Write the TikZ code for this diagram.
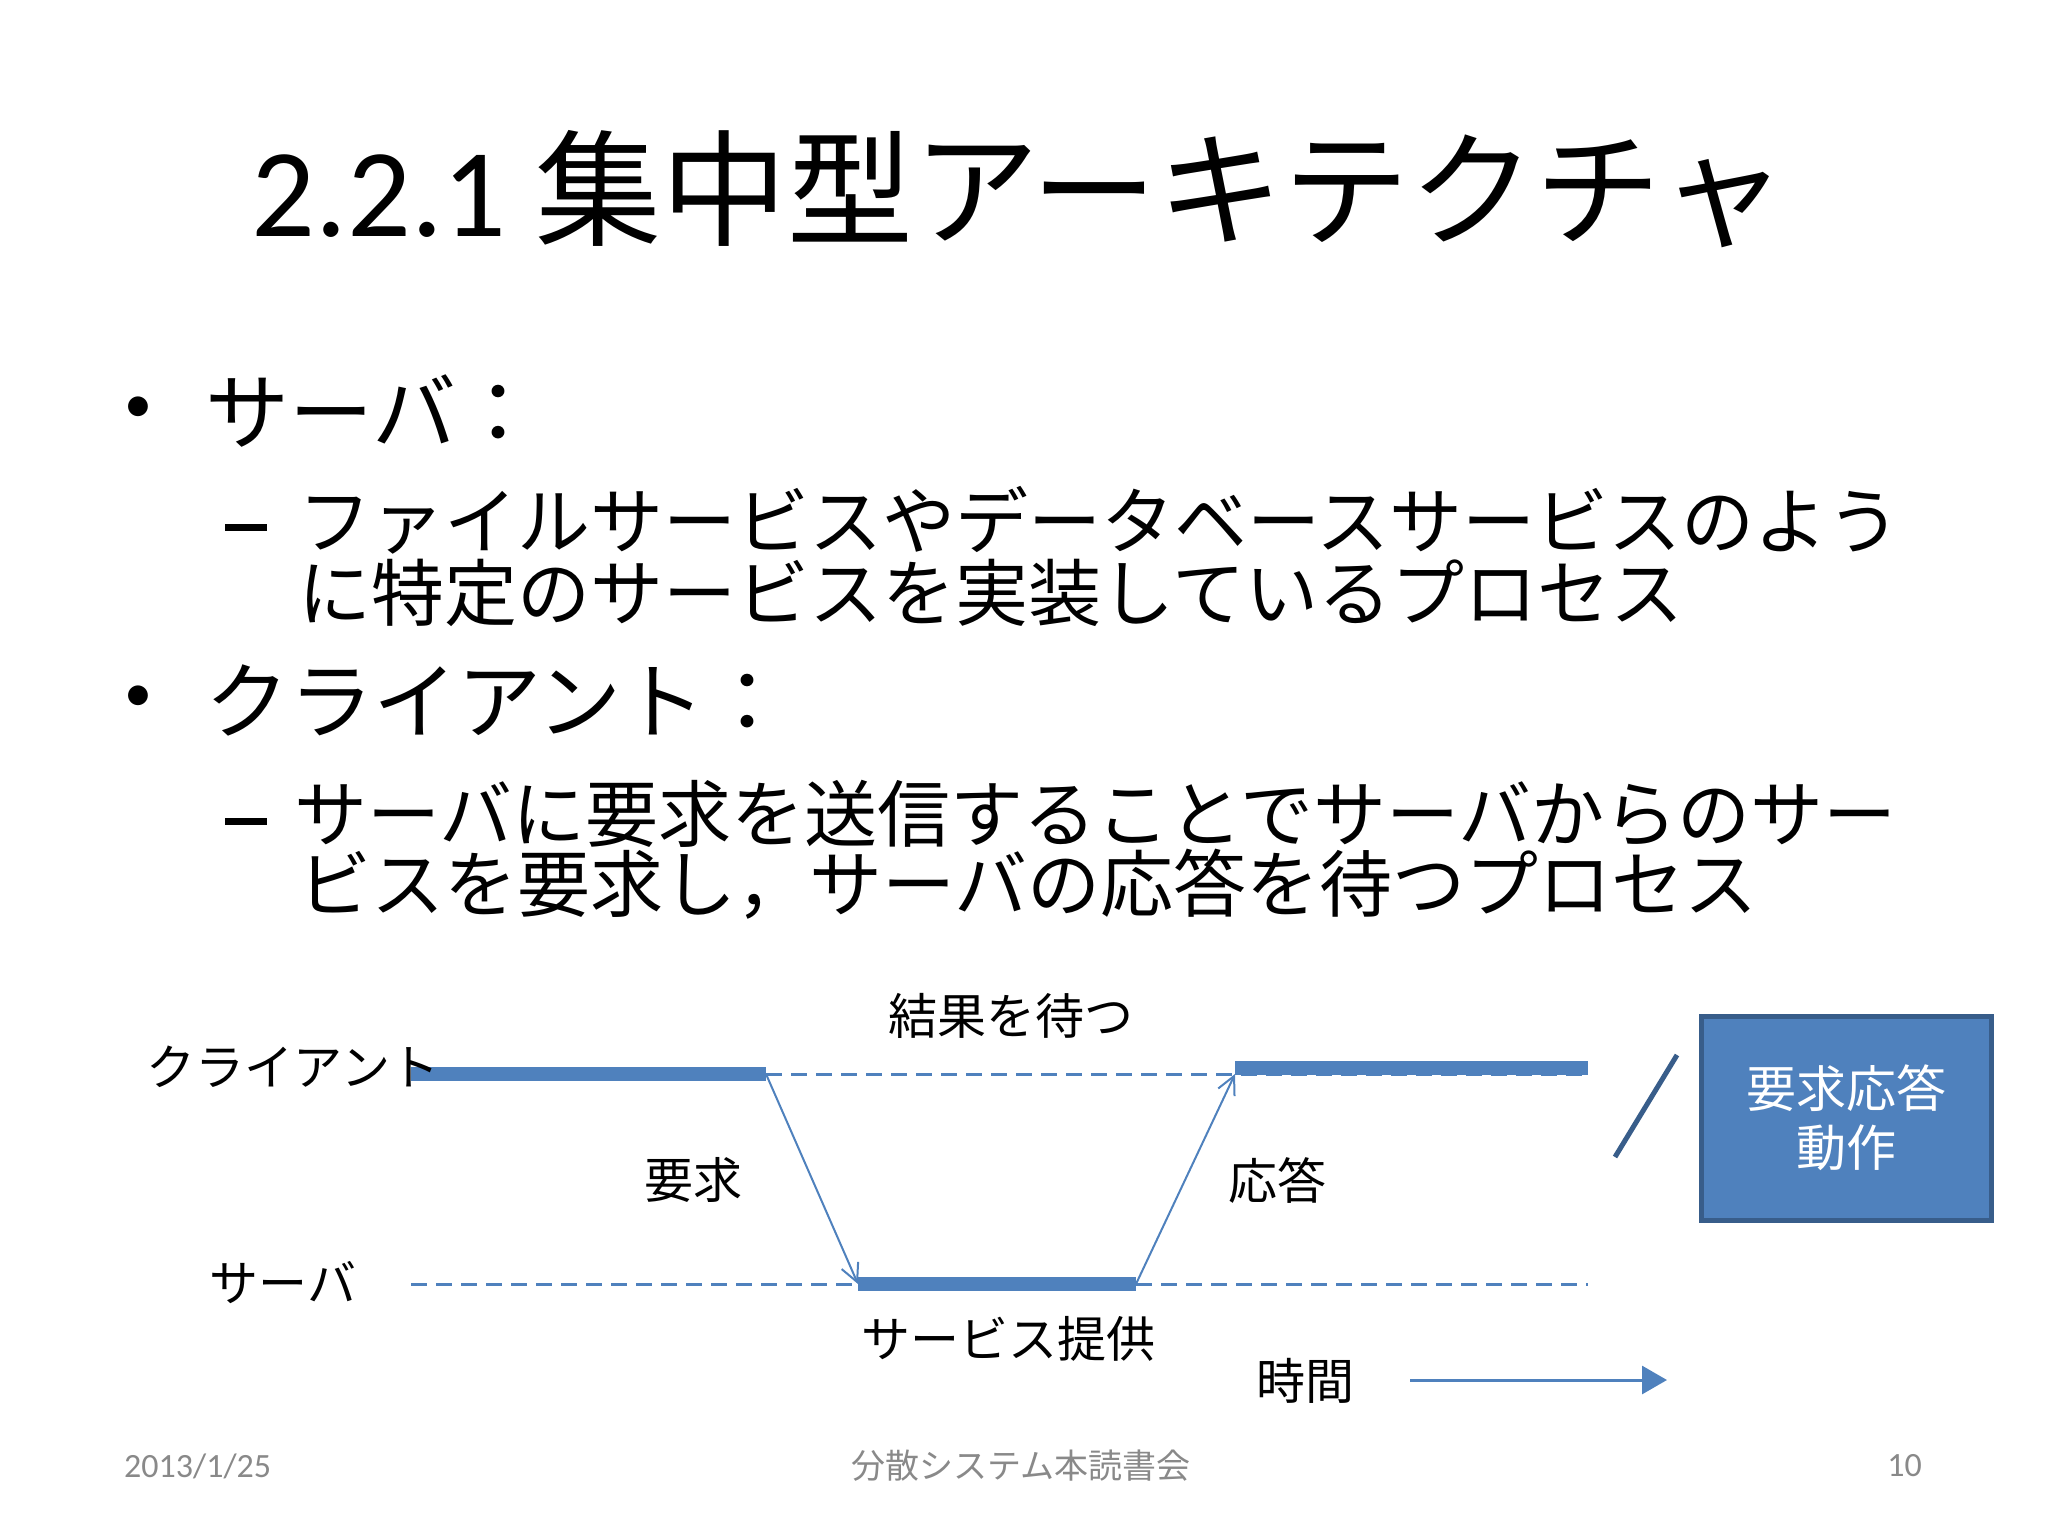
\documentclass[tikz,border=0pt]{standalone}
\usepackage{fontspec}
\setmainfont{Carlito}
\newfontfamily\jp{Noto Sans CJK JP}
\usetikzlibrary{arrows.meta}
\definecolor{office}{HTML}{4F81BD}
\definecolor{officedark}{HTML}{385D8A}
\definecolor{footgray}{HTML}{898989}

\begin{document}
\begin{tikzpicture}[x=1pt,y=-1pt,
  lvlone/.style={inner sep=0pt,anchor=west,font=\jp\fontsize{84}{90}\selectfont},
  lvltwo/.style={inner sep=0pt,anchor=west,font=\jp\fontsize{73}{80}\selectfont},
  puce/.style={inner sep=0pt,font=\fontsize{56}{60}\selectfont},
  tiret/.style={inner sep=0pt},
  lbl/.style={inner sep=0pt,font=\jp\fontsize{49}{55}\selectfont},
  foot/.style={inner sep=0pt,text=footgray,font=\fontsize{34}{40}\selectfont},
  activ/.style={office,line width=14pt},
  idle/.style={office,line width=3pt,dash pattern=on 16pt off 9pt},
  msg/.style={office,line width=2pt,-{Straight Barb[length=18pt,width=18pt]}}]
\useasboundingbox (0,0) rectangle (2048,1536);

% Titre
\node[inner sep=0pt] (titre) at (1019,189)
  {\fontsize{126}{130}\selectfont 2.2.1 {\jp 集中型アーキテクチャ}};

% Puces
\node[puce] (puceA) at (138,410) {•};
\node[lvlone] (serveur) at (205,411) {サーバ：};
\node[tiret] (tiretA) at (246,527) {\rule{42pt}{7pt}};
\node[lvltwo] (ligneA) at (298,520) {ファイルサービスやデータベースサービスのよう};
\node[lvltwo] (ligneB) at (298,593) {に特定のサービスを実装しているプロセス};
\node[puce] (puceB) at (138,699) {•};
\node[lvlone] (client) at (205,700) {クライアント：};
\node[tiret] (tiretB) at (246,821) {\rule{42pt}{7pt}};
\node[lvltwo] (ligneC) at (294,814) {サーバに要求を送信することでサーバからのサー};
\node[lvltwo] (ligneD) at (298,884) {ビスを要求し，サーバの応答を待つプロセス};

% Les lignes de temps
\coordinate (cA) at (411,1074);
\coordinate (cB) at (766,1074);
\coordinate (cC) at (1235,1074);
\coordinate (cD) at (1235,1068);
\coordinate (cE) at (1588,1068);
\coordinate (sA) at (411,1284);
\coordinate (sB) at (858,1284);
\coordinate (sC) at (1136,1284);
\coordinate (sD) at (1588,1284);
\draw[idle] (cB) -- (1588,1074);
\draw[idle] (sA) -- (sB);
\draw[idle] (sC) -- (sD);
\draw[activ] (cA) -- (cB);
\draw[activ] (cD) -- (cE);
\draw[activ] (sB) -- (sC);

% Les messages
\draw[msg] (cB) -- (sB);
\draw[msg] (sC) -- (cC);

% Les textes
\node[lbl] (lclient) at (293,1067) {クライアント};
\node[lbl] (lserveur) at (283,1283) {サーバ};
\node[lbl] (attente) at (1011,1016) {結果を待つ};
\node[lbl] (requete) at (693,1180) {要求};
\node[lbl] (reponse) at (1277,1180) {応答};
\node[lbl] (service) at (1008,1339) {サービス提供};
\node[lbl] (temps) at (1305,1381) {時間};
\coordinate (tA) at (1410,1380);
\coordinate (tB) at (1667,1380);
\draw[office,line width=3pt,-{Triangle[length=25pt,width=28pt]}] (tA) -- (tB);

% Encadre
\draw[officedark,line width=5pt] (1677,1055) -- (1615,1157);
\node[draw=officedark,line width=5pt,fill=office,text=white,align=center,
  minimum width=290,minimum height=204,inner sep=0pt,
  font=\jp\fontsize{50}{59}\selectfont] (cadre) at (1846,1118) {要求応答\\動作};

% Pied de page
\node[foot,anchor=west] (date) at (124,1466) {2013/1/25};
\node[foot,font=\jp\fontsize{34}{40}\selectfont] (seance) at (1021,1466) {分散システム本読書会};
\node[foot,anchor=east] (page) at (1922,1466) {10};

\end{tikzpicture}
\end{document}
